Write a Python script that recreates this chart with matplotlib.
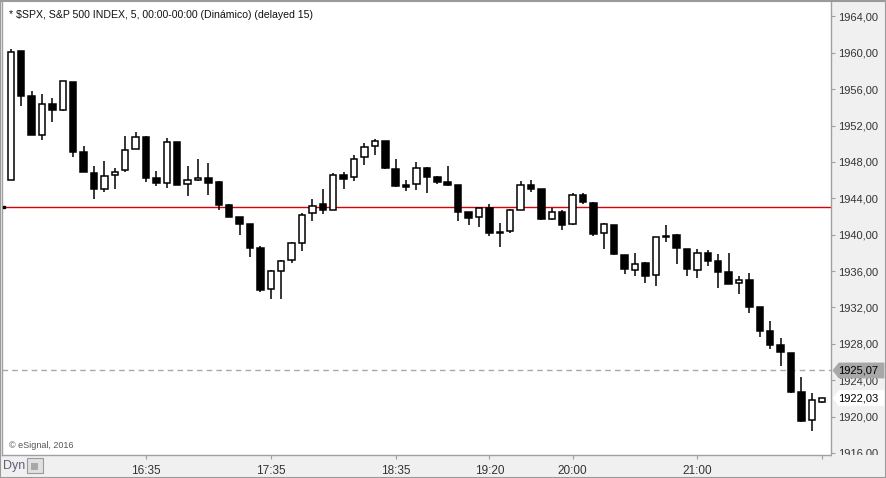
import numpy as np
import pandas as pd
import matplotlib
matplotlib.use('Agg')
import matplotlib.pyplot as plt
from matplotlib.patches import Rectangle, Polygon

plt.rcParams['font.family'] = ['Liberation Sans', 'DejaVu Sans']

# 5-minute bars of $SPX, 15:30 .. 22:00
times = pd.date_range('2016-01-01 15:30', periods=79, freq='5min').strftime('%H:%M')

opens = [1945.98, 1960.19, 1955.25, 1950.99, 1954.37, 1953.74, 1956.75, 1949.06, 1946.75, 1944.99,
         1946.53, 1947.08, 1949.39, 1950.74, 1946.23, 1945.65, 1950.19, 1945.54, 1945.98, 1946.23,
         1945.79, 1943.26, 1941.91, 1941.14, 1938.54, 1934.00, 1935.97, 1937.18, 1939.05, 1942.35,
         1943.34, 1942.75, 1946.53, 1946.31, 1948.51, 1949.72, 1950.30, 1947.19, 1945.43, 1945.54,
         1947.30, 1946.34, 1945.76, 1945.46, 1942.49, 1941.91, 1942.97, 1940.30, 1940.44, 1942.75,
         1945.43, 1944.99, 1941.76, 1942.46, 1941.14, 1944.33, 1943.45, 1940.15, 1941.03, 1937.73,
         1936.08, 1936.85, 1935.53, 1939.91, 1939.93, 1938.39, 1936.08, 1937.95, 1937.07, 1935.86,
         1934.66, 1934.99, 1932.02, 1929.38, 1927.84, 1926.99, 1922.67, 1919.59, 1921.64]
highs = [1960.38, 1960.19, 1955.80, 1955.47, 1955.03, 1956.86, 1956.75, 1949.75, 1947.55, 1948.10,
         1947.33, 1950.85, 1951.29, 1950.85, 1947.00, 1950.60, 1950.19, 1947.55, 1948.32, 1947.88,
         1945.90, 1943.37, 1941.91, 1941.14, 1938.72, 1936.12, 1937.22, 1939.16, 1942.35, 1943.92,
         1945.02, 1946.78, 1946.86, 1948.76, 1950.05, 1950.52, 1950.30, 1948.29, 1945.98, 1947.96,
         1947.44, 1946.45, 1947.55, 1945.46, 1942.49, 1942.90, 1943.37, 1941.28, 1942.79, 1945.87,
         1945.98, 1944.99, 1942.90, 1942.66, 1944.55, 1944.55, 1943.56, 1941.25, 1941.03, 1937.73,
         1937.95, 1936.96, 1939.71, 1941.03, 1940.04, 1938.39, 1938.39, 1938.32, 1937.84, 1937.95,
         1935.42, 1935.75, 1932.02, 1930.51, 1928.64, 1926.99, 1924.35, 1922.59, 1922.03]
lows = [1945.98, 1954.18, 1950.99, 1950.38, 1952.42, 1953.63, 1948.51, 1946.92, 1943.96, 1944.73,
        1945.06, 1946.92, 1949.39, 1945.83, 1945.39, 1945.17, 1945.50, 1944.29, 1945.87, 1944.40,
        1942.75, 1941.91, 1940.00, 1937.58, 1933.73, 1932.90, 1932.96, 1936.92, 1938.24, 1941.54,
        1942.31, 1942.75, 1945.02, 1945.93, 1947.69, 1948.79, 1947.25, 1945.28, 1944.84, 1944.95,
        1944.62, 1945.61, 1945.39, 1941.54, 1941.06, 1940.88, 1939.89, 1938.68, 1940.22, 1942.75,
        1944.73, 1941.65, 1941.65, 1940.55, 1941.03, 1943.41, 1939.89, 1938.46, 1937.80, 1935.71,
        1935.49, 1934.72, 1934.39, 1939.23, 1936.78, 1935.49, 1935.27, 1936.59, 1934.17, 1934.61,
        1933.51, 1931.42, 1928.78, 1927.47, 1925.60, 1922.63, 1919.41, 1918.38, 1921.53]
closes = [1960.12, 1955.28, 1950.99, 1954.37, 1953.74, 1956.86, 1949.12, 1946.92, 1944.99, 1946.42,
          1946.86, 1949.31, 1950.71, 1946.26, 1945.72, 1950.16, 1945.50, 1945.98, 1946.23, 1945.72,
          1943.26, 1941.98, 1941.21, 1938.57, 1933.95, 1936.01, 1937.07, 1939.05, 1942.13, 1943.12,
          1942.75, 1946.53, 1946.15, 1948.29, 1949.61, 1950.27, 1947.36, 1945.39, 1945.28, 1947.30,
          1946.37, 1945.83, 1945.50, 1942.53, 1941.87, 1942.90, 1940.22, 1940.15, 1942.68, 1945.43,
          1945.06, 1941.72, 1942.46, 1941.01, 1944.33, 1943.63, 1940.11, 1941.14, 1937.88, 1936.19,
          1936.81, 1935.49, 1939.71, 1939.80, 1938.57, 1936.26, 1937.95, 1937.14, 1935.93, 1934.61,
          1934.99, 1932.08, 1929.44, 1927.90, 1927.07, 1922.74, 1919.52, 1921.79, 1922.03]

tick_labels = ['16:35', '17:35', '18:35', '19:20', '20:00', '21:00']
y_ticks = np.arange(1916, 1965, 4)
ref_line = 1943.01      # red horizontal line
prev_close = 1925.07    # dashed line / gray tag
last_price = closes[-1]

title = '* $SPX, S&P 500 INDEX, 5, 00:00-00:00 (Dinámico) (delayed 15)'

W, H = 887, 478
fig = plt.figure(figsize=(W / 100, H / 100), dpi=100, facecolor='#f0f0f0')
# plot area in pixels: x 2..831, y 2..455
ax = fig.add_axes([2 / W, 1 - 455 / H, 829 / W, 453 / H])
ax.set_facecolor('white')

x = np.arange(len(times))
o = np.array(opens)
c = np.array(closes)
up = c >= o
ax.vlines(x, lows, highs, color='black', lw=1.1, zorder=2)
ax.bar(x, np.maximum(np.abs(c - o), 0.08), bottom=np.minimum(o, c), width=0.62,
       color=np.where(up, 'white', 'black'), edgecolor='black', lw=1.1, zorder=3)

ax.axhline(ref_line, color='#dd0000', lw=1, zorder=1)
ax.axhline(prev_close, color='#a8a8a8', lw=1, ls=(0, (4, 3)), zorder=1)
ax.plot([-0.6], [ref_line], marker='s', ms=2, color='black', zorder=4)

ax.set_xlim(-0.84, 78.84)
ax.set_ylim(1915.78, 1965.58)

tick_pos = [list(times).index(t) for t in tick_labels]
ax.set_xticks(tick_pos + [78])
ax.set_xticklabels(tick_labels + [''])
ax.tick_params(axis='x', direction='out', length=3, width=0.8, color='#a0a0a0',
               labelsize=8.5, labelcolor='#333333', pad=4)

ax.yaxis.tick_right()
ax.set_yticks(y_ticks)
ax.set_yticklabels([f'{v:.2f}'.replace('.', ',') for v in y_ticks])
ax.tick_params(axis='y', direction='out', length=3, width=0.8, color='#a0a0a0',
               labelsize=8, labelcolor='#333333', pad=2)

for s in ['left', 'bottom', 'right']:
    ax.spines[s].set_color('#a0a0a0')
    ax.spines[s].set_linewidth(1)
ax.spines['top'].set_visible(False)

ax.text(7 / 829, 1 - 13 / 453, title, transform=ax.transAxes, fontsize=7.6,
        color='#111111', va='center', ha='left')
ax.text(7 / 829, 1 - 444 / 453, '© eSignal, 2016', transform=ax.transAxes, fontsize=6.5,
        color='#555555', va='center', ha='left')

# price tags on the right scale
def tag(price, face, edge):
    yp = ax.transData.transform((0, price))[1]
    yf = yp / H
    x0, x1, hh = 833 / W, 884 / W, 7.5 / H
    poly = Polygon([[x0, yf], [x0 + 6 / W, yf + hh], [x1, yf + hh], [x1, yf - hh],
                    [x0 + 6 / W, yf - hh]], closed=True, transform=fig.transFigure,
                   facecolor=face, edgecolor=edge, lw=0.6, zorder=6)
    fig.add_artist(poly)
    fig.text(838 / W, yf, f'{price:.2f}'.replace('.', ','), fontsize=8, color='black',
             va='center', ha='left', zorder=7)

tag(prev_close, '#a8a8a8', '#a8a8a8')
tag(last_price, 'white', 'white')

# bottom-right corner strip hides the clipped 1916 label like the original
fig.add_artist(Rectangle((832 / W, 0), 55 / W, 23 / H, transform=fig.transFigure,
                         facecolor='#f0f0f0', edgecolor='none', zorder=5))

# "Dyn" and lock box in the bottom strip
fig.text(3 / W, 1 - 466 / H, 'Dyn', fontsize=9, color='#5c6078', va='center', ha='left')
fig.add_artist(Rectangle((27 / W, 1 - 473 / H), 16 / W, 15 / H, transform=fig.transFigure,
                         facecolor='#e0e0e0', edgecolor='#9a9a9a', lw=0.8, zorder=5))
fig.add_artist(Rectangle((31 / W, 1 - 470 / H), 7 / W, 7 / H, transform=fig.transFigure,
                         facecolor='#a8a8a8', edgecolor='none', zorder=6))

# outer frame
fig.add_artist(Rectangle((0.5 / W, 0.5 / H), (W - 1.5) / W, (H - 1.5) / H,
                         transform=fig.transFigure, facecolor='none',
                         edgecolor='#9a9a9a', lw=1.5, zorder=8))

fig.savefig('out.png', dpi=100, facecolor=fig.get_facecolor())
